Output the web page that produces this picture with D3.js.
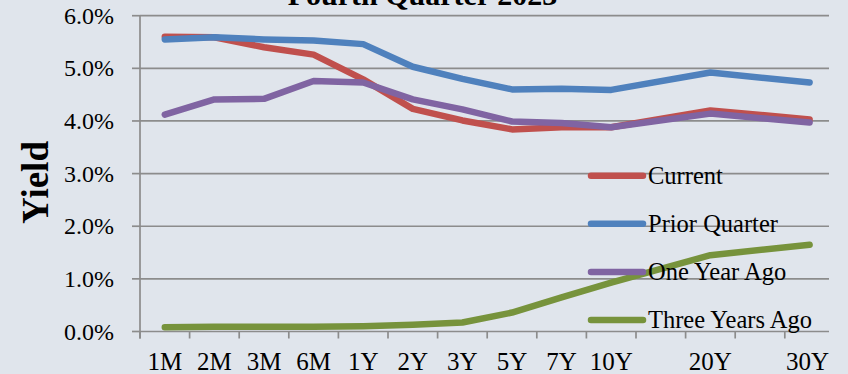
<!DOCTYPE html>
<html>
<head>
<meta charset="utf-8">
<script src="https://cdn.jsdelivr.net/npm/d3@7"></script>
<style>
  html, body { margin: 0; padding: 0; background: #E0E5EC; }
  svg { display: block; }
  text { font-family: "Liberation Serif", "Times New Roman", serif; fill: #000; }
</style>
</head>
<body>
<svg id="chart" width="848" height="374"></svg>
<script>
// ---- data ----
const title = "Fourth Quarter 2023";
const yTitle = "Yield";
// axis slots (15Y and 25Y are unlabeled gap slots)
const slots = ["1M","2M","3M","6M","1Y","2Y","3Y","5Y","7Y","10Y","15Y","20Y","25Y","30Y"];
const categories = ["1M","2M","3M","6M","1Y","2Y","3Y","5Y","7Y","10Y","20Y","30Y"];
const seriesNames = ["Current","Prior Quarter","One Year Ago","Three Years Ago"];
const current      = [5.60, 5.59, 5.40, 5.26, 4.79, 4.23, 4.01, 3.84, 3.88, 3.88, 4.20, 4.03];
const priorQuarter = [5.55, 5.59, 5.55, 5.53, 5.46, 5.03, 4.80, 4.60, 4.61, 4.59, 4.92, 4.73];
const oneYearAgo   = [4.12, 4.41, 4.42, 4.76, 4.73, 4.41, 4.22, 3.99, 3.96, 3.88, 4.14, 3.97];
const threeYearsAgo= [0.08, 0.09, 0.09, 0.09, 0.10, 0.13, 0.17, 0.36, 0.65, 0.93, 1.45, 1.65];
const yTicks = [0, 1, 2, 3, 4, 5, 6];

// ---- layout ----
const colors = ["#C0504D", "#4F81BD", "#8064A2", "#77933C"];
const seriesValues = [current, priorQuarter, oneYearAgo, threeYearsAgo];
const plotLeft = 140, plotRight = 829, plotTop = 15.7, plotBottom = 331.5;
const step = 49.6;

const svg = d3.select("#chart");

const x = d3.scaleBand().domain(slots).range([plotLeft, plotLeft + step * slots.length]).padding(0);
const y = d3.scaleLinear().domain([0, 6]).range([plotBottom, plotTop]);

// gridlines
svg.append("g").selectAll("line").data(yTicks.filter(d => d > 0)).join("line")
  .attr("x1", plotLeft).attr("x2", plotRight)
  .attr("y1", d => y(d)).attr("y2", d => y(d))
  .attr("stroke", "#8C8C8C").attr("stroke-width", 1.7);

// y axis
svg.append("line").attr("x1", plotLeft).attr("x2", plotLeft)
  .attr("y1", plotTop).attr("y2", plotBottom + 7)
  .attr("stroke", "#8C8C8C").attr("stroke-width", 1.7);
svg.append("g").selectAll("line").data(yTicks).join("line")
  .attr("x1", plotLeft - 8).attr("x2", plotLeft)
  .attr("y1", d => y(d)).attr("y2", d => y(d))
  .attr("stroke", "#8C8C8C").attr("stroke-width", 1.7);
svg.append("g").selectAll("text").data(yTicks).join("text")
  .attr("x", 114).attr("y", d => y(d) + 8)
  .attr("text-anchor", "end").attr("font-size", 24)
  .text(d => d.toFixed(1) + "%");

// x axis
svg.append("line").attr("x1", plotLeft).attr("x2", plotRight)
  .attr("y1", plotBottom).attr("y2", plotBottom)
  .attr("stroke", "#8C8C8C").attr("stroke-width", 1.7);
svg.append("g").selectAll("line").data(slots).join("line")
  .attr("x1", d => x(d)).attr("x2", d => x(d))
  .attr("y1", plotBottom).attr("y2", plotBottom + 7)
  .attr("stroke", "#8C8C8C").attr("stroke-width", 1.7);
svg.append("g").selectAll("text").data(slots).join("text")
  .attr("x", d => x(d) + x.bandwidth() / 2 - (d === "30Y" ? 2 : 0))
  .attr("y", 370)
  .attr("text-anchor", "middle").attr("font-size", 25)
  .text(d => categories.includes(d) ? d : "");

// series lines
const line = d3.line()
  .x((d, i) => x(categories[i]) + x.bandwidth() / 2)
  .y(d => y(d));
seriesValues.forEach((vals, k) => {
  svg.append("path").datum(vals)
    .attr("d", line)
    .attr("fill", "none")
    .attr("stroke", colors[k])
    .attr("stroke-width", 6.5)
    .attr("stroke-linecap", "round")
    .attr("stroke-linejoin", "round");
});

// legend
const legendY = d3.scalePoint().domain(seriesNames).range([175.7, 320]);
const lg = svg.append("g");
seriesNames.forEach((name, k) => {
  const ly = legendY(name);
  lg.append("line").attr("x1", 591).attr("x2", 643)
    .attr("y1", ly).attr("y2", ly)
    .attr("stroke", colors[k]).attr("stroke-width", 6.5)
    .attr("stroke-linecap", "round");
  lg.append("text").attr("x", 648).attr("y", ly + 8)
    .attr("font-size", 24.5).text(name);
});

// titles
svg.append("text").attr("x", 422.5).attr("y", 4.5)
  .attr("text-anchor", "middle").attr("font-size", 30).attr("font-weight", "bold")
  .text(title);
svg.append("text")
  .attr("transform", "translate(48,182.5) rotate(-90)")
  .attr("text-anchor", "middle").attr("font-size", 37).attr("font-weight", "bold")
  .text(yTitle);
</script>
</body>
</html>
